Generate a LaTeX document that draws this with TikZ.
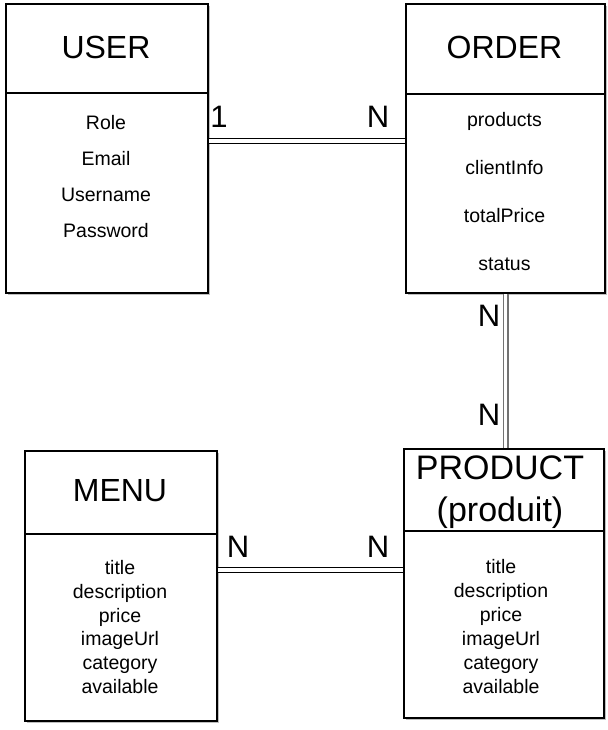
\documentclass[tikz,border=0pt]{standalone}
\usepackage{fontspec}
\setmainfont{Liberation Sans}
\usetikzlibrary{shadows}
\begin{document}
\begin{tikzpicture}[x=1pt,y=-1pt,
  box/.style={draw=black, line width=2.4pt, fill=white, inner sep=0pt, anchor=north west,
    drop shadow={shadow xshift=2pt, shadow yshift=-2pt, opacity=0.25, fill=black}},
  htext/.style={font=\fontsize{32}{38}\selectfont, align=center},
  btext/.style={font=\fontsize{19.5}{24}\selectfont, align=center},
  card/.style={font=\fontsize{31}{36}\selectfont, inner sep=0pt},
  rel/.style={double=white, double distance=3.5pt, line width=1.1pt, draw=black}
]
\useasboundingbox (0,0) rectangle (607,730);
% USER
\node[box, minimum width=202pt, minimum height=89pt] (userh) at (5,3) {};
\node[box, minimum width=202pt, minimum height=200pt] (userb) at (5,92) {};
\node[htext] (usern) at (106,47) {USER};
\node[btext, font=\fontsize{19.5}{36}\selectfont] (usert) at (106,177) {Role\\Email\\Username\\Password};
% ORDER
\node[box, minimum width=199pt, minimum height=90pt] (ordh) at (405,3) {};
\node[box, minimum width=199pt, minimum height=199pt] (ordb) at (405,93) {};
\node[htext] (ordn) at (504.5,47) {ORDER};
\node[btext, font=\fontsize{19.5}{48}\selectfont] (ordt) at (504.5,192) {products\\clientInfo\\totalPrice\\status};
% MENU
\node[box, minimum width=192pt, minimum height=83pt] (menuh) at (24,450) {};
\node[box, minimum width=192pt, minimum height=187pt] (menub) at (24,533) {};
\node[htext] (menun) at (120,491) {MENU};
\node[btext, font=\fontsize{19.5}{23.8}\selectfont] (menut) at (120,627) {title\\description\\price\\imageUrl\\category\\available};
% PRODUCT
\node[box, minimum width=200pt, minimum height=82pt] (prodh) at (403,448) {};
\node[box, minimum width=200pt, minimum height=187pt] (prodb) at (403,530) {};
\node[htext, font=\fontsize{34}{42}\selectfont] (prodn) at (500,492) {PRODUCT\\(produit)};
\node[btext, font=\fontsize{19.5}{24}\selectfont] (prodt) at (501,627) {title\\description\\price\\imageUrl\\category\\available};
% relations
\draw[rel] ([yshift=-49pt]userb.north east) -- ([yshift=-49pt]userb.north east -| ordb.west);
\draw[rel, draw=black!55, double distance=3pt, line width=1.3pt] (ordb.south) -- (ordb.south |- prodh.north);
\draw[rel] ([yshift=-37pt]menub.north east) -- ([yshift=-37pt]menub.north east -| prodb.west);
% cardinalities
\node[card] (c1) at (219,117) {1};
\node[card] (c2) at (378,117) {N};
\node[card] (c3) at (489,316) {N};
\node[card] (c4) at (489,415) {N};
\node[card] (c5) at (238,547) {N};
\node[card] (c6) at (378,547) {N};
\end{tikzpicture}
\end{document}
